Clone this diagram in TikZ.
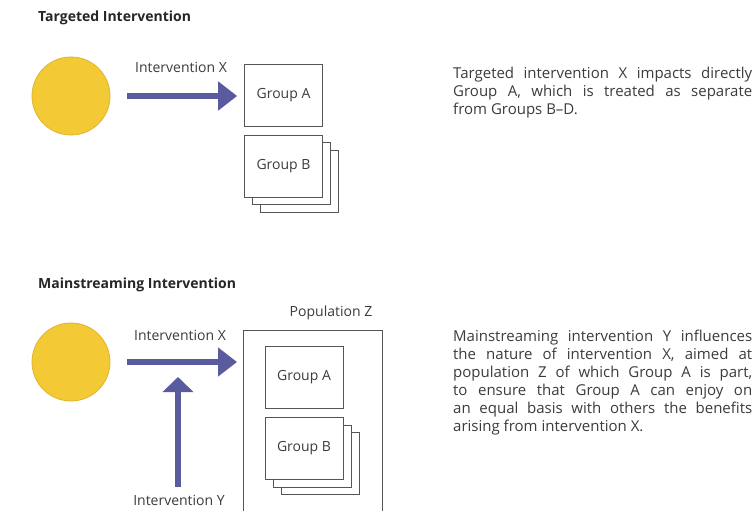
\documentclass[tikz,border=0pt]{standalone}
\usepackage{fontspec}
\setmainfont{Open Sans}
\usetikzlibrary{arrows.meta}
\definecolor{sun}{HTML}{F3C936}
\definecolor{sunedge}{HTML}{E2B42A}
\definecolor{arr}{HTML}{5A5A9E}
\definecolor{txt}{HTML}{3C3C3C}
\definecolor{boxline}{HTML}{555555}
\tikzset{
  sunc/.style={circle, fill=sun, draw=sunedge, line width=0.8pt, minimum size=78pt, inner sep=0pt},
  grp/.style={draw=boxline, line width=0.7pt, fill=white, minimum width=78pt, minimum height=62pt, inner sep=0pt, font=\fontsize{14}{15}\selectfont, text=txt},
  back/.style={draw=boxline, line width=0.7pt, fill=white, minimum width=78pt, minimum height=62pt, inner sep=0pt},
  bigarrow/.style={draw=arr, line width=6pt, -{Triangle[length=19pt, width=28pt]}},
  lbl/.style={font=\fontsize{14}{15}\selectfont, text=txt, inner sep=0pt},
  ttl/.style={font=\fontsize{14}{15}\selectfont\bfseries, text=black!85, inner sep=0pt, anchor=west},
  para/.style={font=\fontsize{15}{18}\selectfont, text=txt, inner sep=0pt, anchor=north west, align=left}
}
\begin{document}
\begin{tikzpicture}[x=1pt, y=-1pt]
\useasboundingbox[fill=white] (0,0) rectangle (753,511);

% ---------- Targeted ----------
\node[ttl] (t1) at (38,18) {Targeted Intervention};
\node[sunc] (c1) at (71,96) {};
\node[lbl] (lx1) at (181,67) {Intervention X};
\node[back] (gB1c) at (299,181) {};
\node[back] (gB1b) at (291,173) {};
\node[grp] (gB1) at (283.5,166) {Group B};
\node[grp] (gA1) at (283.5,95.5) {Group A};
\draw[bigarrow, shorten <=17pt, shorten >=7pt] (c1.east) -- (c1.east -| gA1.west);

\node[para] (p1) at (453,66.5) {%
\makebox[299pt][s]{Targeted intervention X impacts directly}\\
\makebox[299pt][s]{Group A, which is treated as separate}\\
from Groups B–D.};

% ---------- Mainstreaming ----------
\node[ttl] (t2) at (38,285) {Mainstreaming Intervention};
\node[sunc] (c2) at (71,362) {};
\node[draw=boxline, line width=0.7pt, minimum width=139pt, minimum height=181pt, inner sep=0pt, anchor=north west] (pop) at (243,330) {};
\node[lbl] (lz) at (331,313) {Population Z};
\node[lbl] (lx2) at (180,335) {Intervention X};
\node[back] (gB2c) at (320,463) {};
\node[back] (gB2b) at (312,456) {};
\node[grp] (gB2) at (304,448.5) {Group B};
\node[grp] (gA2) at (304,377.5) {Group A};
\draw[bigarrow, shorten <=17pt, shorten >=6pt] (c2.east) -- (c2.east -| pop.west);
\node[lbl] (ly) at (179,500) {Intervention Y};
\coordinate (ytip) at (178,377);
\draw[bigarrow, -{Triangle[length=15pt, width=30pt]}, shorten <=8pt] (ly.north -| ytip) -- (ytip);

\node[para] (p2) at (453,329.5) {%
\makebox[299pt][s]{Mainstreaming intervention Y influences}\\
\makebox[299pt][s]{the nature of intervention X, aimed at}\\
\makebox[299pt][s]{population Z of which Group A is part,}\\
\makebox[299pt][s]{to ensure that Group A can enjoy on}\\
\makebox[299pt][s]{an equal basis with others the benefits}\\
arising from intervention X.};
\end{tikzpicture}
\end{document}
